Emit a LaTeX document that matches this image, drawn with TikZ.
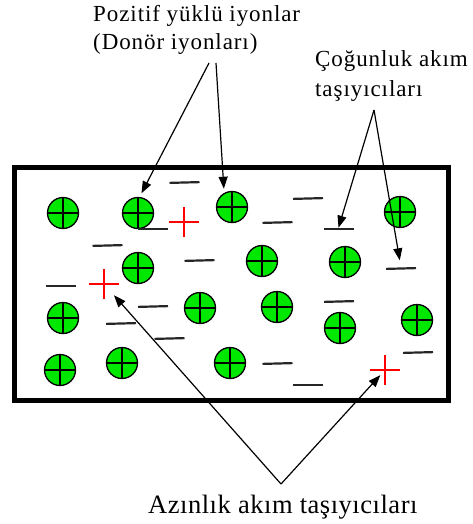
\documentclass[tikz,border=0pt]{standalone}
\usepackage{fontspec}
\setmainfont{Liberation Serif}
\newfontfamily\lblfont[LetterSpace=4]{Liberation Serif}
\newfontfamily\lblfontb[LetterSpace=2]{Liberation Serif}
\usetikzlibrary{arrows.meta}
\definecolor{iongreen}{RGB}{0,232,0}
\tikzset{
  ion/.style={circle, draw=black, line width=1.3pt, fill=iongreen, minimum size=31pt, inner sep=0pt, outer sep=4.5pt,
    path picture={\draw[line width=2pt] (path picture bounding box.north) -- (path picture bounding box.south)
      (path picture bounding box.west) -- (path picture bounding box.east);}},
  elec/.style={rectangle, fill=black!85, minimum width=30pt, minimum height=2.2pt, inner sep=0pt},
  hole/.style={rectangle, minimum size=30pt, inner sep=0pt,
    path picture={\draw[red, line width=2.2pt] (path picture bounding box.north) -- (path picture bounding box.south)
      (path picture bounding box.west) -- (path picture bounding box.east);}},
  arr/.style={line width=1.2pt, -{Triangle[length=12pt,width=9pt]}},
  lbl/.style={anchor=base west, inner sep=0pt, font=\lblfont\fontsize{23}{28}\selectfont},
}
\begin{document}
\begin{tikzpicture}[x=1pt,y=-1pt]
\useasboundingbox (0,0) rectangle (473,524);
% crystal
\draw[line width=5pt] (14,167) rectangle (448,400);
% ions
\node[ion] (i1) at (63,213) {};
\node[ion] (i2) at (138,213) {};
\node[ion] (i3) at (232,207) {};
\node[ion] (i4) at (400,212) {};
\node[ion] (i5) at (138,268) {};
\node[ion] (i6) at (262,261) {};
\node[ion] (i7) at (345,262) {};
\node[ion] (i8) at (63,318) {};
\node[ion] (i9) at (200,308) {};
\node[ion] (i10) at (277,307) {};
\node[ion] (i11) at (340,328) {};
\node[ion] (i12) at (417,320) {};
\node[ion] (i13) at (60,370) {};
\node[ion] (i14) at (122,363) {};
\node[ion] (i15) at (230,363) {};
% electrons
\node[elec, rotate=1.5] (e1) at (184.5,182.5) {};
\node[elec] (e2) at (153,229) {};
\node[elec, rotate=1.5] (e3) at (107.5,245.5) {};
\node[elec, rotate=1.5] (e4) at (199.5,260.5) {};
\node[elec] (e5) at (60.5,286) {};
\node[elec, rotate=1.5] (e6) at (153,306.5) {};
\node[elec, rotate=1.5] (e7) at (121,323.5) {};
\node[elec, rotate=1.5] (e8) at (169.5,338.5) {};
\node[elec, rotate=1.5] (e9) at (308,198.5) {};
\node[elec, rotate=1.5] (e10) at (277.5,222.5) {};
\node[elec] (e11) at (338.5,229) {};
\node[elec, rotate=1.5] (e12) at (401,268.5) {};
\node[elec, rotate=1.5] (e13) at (339,301.5) {};
\node[elec, rotate=1.5] (e14) at (418,352.5) {};
\node[elec, rotate=1.5] (e15) at (277.5,363.5) {};
\node[elec] (e16) at (308,385) {};
% holes (minority carriers)
\node[hole] (h1) at (184,222) {};
\node[hole] (h2) at (104,284) {};
\node[hole] (h3) at (385,370) {};
% labels
\node[lbl] (t1) at (93,22) {Pozitif yüklü iyonlar};
\node[lbl] (t2) at (93,50) {(Donör iyonları)};
\node[lbl] (t3) at (315,67) {Çoğunluk akım};
\node[lbl] (t4) at (315,96) {taşıyıcıları};
\node[lbl, font=\lblfontb\fontsize{26.5}{30}\selectfont] (t5) at (148,513) {Azınlık akım taşıyıcıları};
% arrow origins
\coordinate (pa1) at (209,63);
\coordinate (pa2) at (216,63);
\coordinate (pc) at (374,110);
\coordinate (pb) at (281,484);
% arrows
\draw[arr] (pa1) -- (i2.80);
\draw[arr] (pa2) -- (i3.114);
\draw[arr] (pc) -- (e11.north);
\draw[arr, shorten >=7pt] (pc) -- (e12.north);
\draw[arr, shorten >=15pt] (pb) -- (h2.center);
\draw[arr, shorten >=7pt] (pb) -- (h3.center);
\end{tikzpicture}
\end{document}
